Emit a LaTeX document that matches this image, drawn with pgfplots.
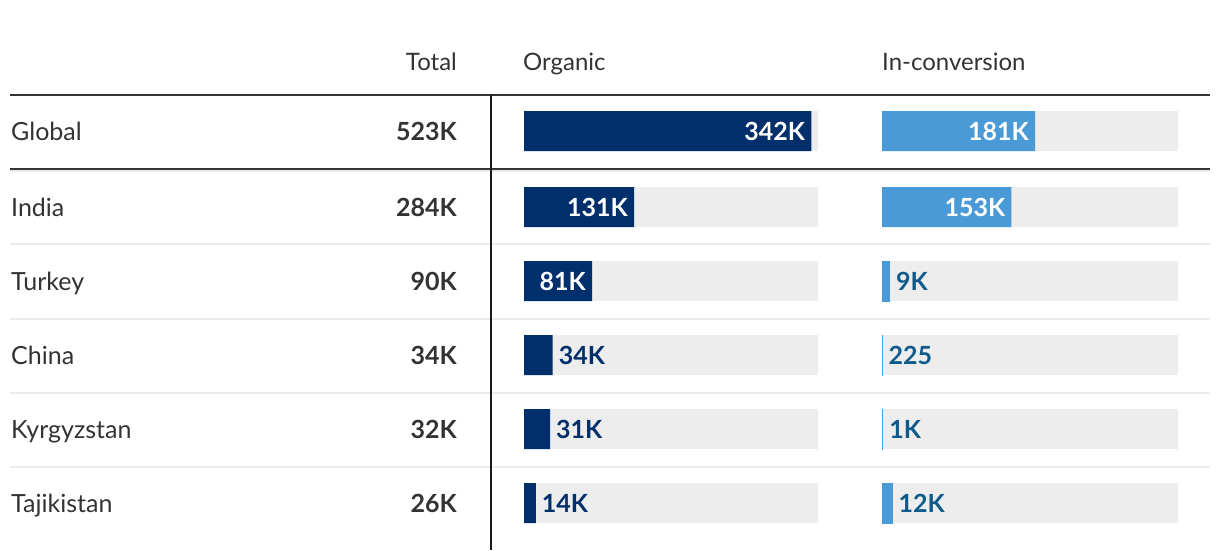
\documentclass[border=0pt]{standalone}
\usepackage{pgfplots}
\pgfplotsset{compat=1.18}
\usepackage{fontspec}
\setmainfont{Lato}
\definecolor{navy}{HTML}{002F6C}
\definecolor{lblue}{HTML}{4A9AD8}
\definecolor{dblue}{HTML}{0E5A8A}
\definecolor{bgbar}{HTML}{EDEDED}
\definecolor{txt}{HTML}{333333}
\definecolor{sep}{HTML}{EBEBEB}
\newcommand{\lab}{\fontsize{25}{29}\selectfont}
\newcommand{\hlab}{\fontsize{24}{28}\selectfont}
\newcommand{\blab}{\fontsize{25}{29}\selectfont\bfseries}
\pgfplotsset{
  rowaxis/.style={
    scale only axis, hide axis, height=550pt,
    xmin=0, xmax=350, ymin=0, ymax=550, y dir=reverse,
    anchor=north west, clip=false,
    xbar, bar width=40, bar shift=0pt,
  },
  inlab/.style={nodes near coords, point meta=explicit symbolic,
    nodes near coords style={font=\blab, text=white, anchor=east, inner sep=0pt, xshift=-6pt}},
  outlab/.style={nodes near coords, point meta=explicit symbolic,
    nodes near coords style={font=\blab, text=#1, anchor=west, inner sep=0pt, xshift=6pt}},
}
\begin{document}
\begin{tikzpicture}[x=1pt,y=-1pt]
\path[use as bounding box] (0,0) rectangle (1220,550);
% separators
\foreach \yy in {244,319,393,467} \draw[sep, line width=2.5pt] (10,\yy) -- (1210,\yy);
\draw[sep, line width=2.5pt] (10,171) -- (1210,171);
\draw[txt, line width=2pt] (10,95) -- (1210,95);
\draw[txt, line width=2pt] (10,168.5) -- (1210,168.5);
\draw[black!90, line width=1.6pt] (491,95) -- (491,550);
% headers
\node[anchor=base east, font=\hlab, text=txt, inner sep=0pt] at (457,70) {Total};
\node[anchor=base west, font=\hlab, text=txt, inner sep=0pt] at (523,70) {Organic};
\node[anchor=base west, font=\hlab, text=txt, inner sep=0pt] at (882,70) {In-conversion};
% row labels and totals
\foreach \nm/\tot/\yy in {Global/523K/131, India/284K/207, Turkey/90K/281, China/34K/355, Kyrgyzstan/32K/429, Tajikistan/26K/503} {
  \node[anchor=base west, font=\lab, text=txt, inner sep=0pt] at (11,\yy+9) {\nm};
  \node[anchor=base east, font=\blab, text=txt, inner sep=0pt] at (457,\yy+9) {\tot};
}
% Organic
\begin{axis}[rowaxis, at={(524pt,0pt)}, width=294pt]
\addplot[fill=bgbar, draw=none] coordinates {(350,131) (350,207) (350,281) (350,355) (350,429) (350,503)};
\addplot[fill=navy, draw=none, inlab] coordinates {(342,131)[342K] (131,207)[131K] (81,281)[81K]};
\addplot[fill=navy, draw=none, outlab=navy] coordinates {(34,355)[34K] (31,429)[31K] (14,503)[14K]};
\end{axis}
% In-conversion
\begin{axis}[rowaxis, at={(882pt,0pt)}, width=296pt]
\addplot[fill=bgbar, draw=none] coordinates {(350,131) (350,207) (350,281) (350,355) (350,429) (350,503)};
\addplot[fill=lblue, draw=none, inlab] coordinates {(181,131)[181K] (153,207)[153K]};
\addplot[fill=lblue, draw=lblue, line width=0.8pt, outlab=dblue] coordinates {(9,281)[9K] (0.225,355)[225] (1,429)[1K] (12,503)[12K]};
\end{axis}
\end{tikzpicture}
\end{document}
